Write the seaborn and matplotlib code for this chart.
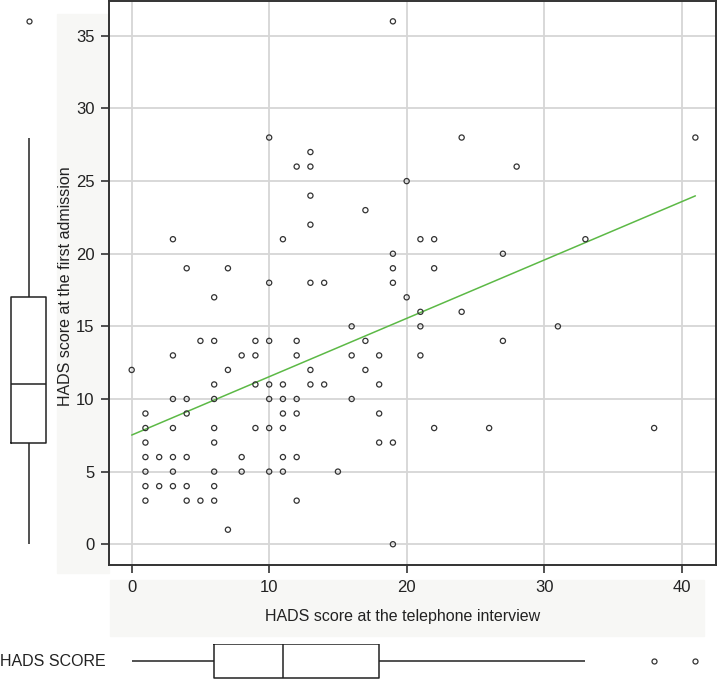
import numpy as np
import pandas as pd
import matplotlib
matplotlib.use('Agg')
import matplotlib.pyplot as plt
import seaborn as sns

# HADS score at the telephone interview (x) and at first admission (y)
tel_score = [0,
             1, 1, 1, 1, 1, 1, 1,
             2, 2,
             3, 3, 3, 3, 3, 3, 3,
             4, 4, 4, 4, 4, 4,
             5, 5,
             6, 6, 6, 6, 6, 6, 6, 6, 6,
             7, 7, 7,
             8, 8, 8,
             9, 9, 9, 9,
             10, 10, 10, 10, 10, 10, 10,
             11, 11, 11, 11, 11, 11, 11,
             12, 12, 12, 12, 12, 12, 12,
             13, 13, 13, 13, 13, 13, 13,
             14, 14,
             15,
             16, 16, 16,
             17, 17, 17,
             18, 18, 18, 18,
             19, 19, 19, 19, 19, 19,
             20, 20,
             21, 21, 21, 21,
             22, 22, 22,
             24, 24,
             26,
             27, 27,
             28,
             31,
             33,
             38,
             41]
adm_score = [12,
             9, 8, 7, 6, 5, 4, 3,
             6, 4,
             21, 13, 10, 8, 6, 5, 4,
             19, 10, 9, 6, 4, 3,
             14, 3,
             17, 14, 11, 10, 8, 7, 5, 4, 3,
             19, 12, 1,
             13, 6, 5,
             14, 13, 11, 8,
             28, 18, 14, 11, 10, 8, 5,
             21, 11, 10, 9, 8, 6, 5,
             26, 14, 13, 10, 9, 6, 3,
             27, 26, 24, 22, 18, 12, 11,
             18, 11,
             5,
             15, 13, 10,
             23, 14, 12,
             13, 11, 9, 7,
             36, 20, 19, 18, 7, 0,
             25, 17,
             21, 16, 15, 13,
             21, 19, 8,
             28, 16,
             8,
             20, 14,
             26,
             15,
             21,
             8,
             28]

x_ticks = [0, 10, 20, 30, 40]
y_ticks = [0, 5, 10, 15, 20, 25, 30, 35]

df = pd.DataFrame({'tel': tel_score, 'adm': adm_score})

sns.set_style('white')
plt.rcParams['font.family'] = ['Liberation Sans', 'DejaVu Sans']

W, H = 719, 680
fig = plt.figure(figsize=(W / 100, H / 100), dpi=100)

def px_rect(x0, y0, x1, y1):
    # pixel box (top-left origin) -> figure fraction rect
    return [x0 / W, 1 - y1 / H, (x1 - x0) / W, (y1 - y0) / H]

# faint panels behind the axis titles
for x0, y0, x1, y1 in [(57, 14, 109, 573), (110, 580, 704, 636)]:
    fig.patches.append(plt.Rectangle((x0 / W, 1 - y1 / H), (x1 - x0) / W, (y1 - y0) / H,
                                     transform=fig.transFigure, color='#f7f7f5',
                                     zorder=-5))

ax = fig.add_axes(px_rect(109, 1, 716, 565))
ax_left = fig.add_axes(px_rect(0, 1, 57, 565), sharey=ax)
ax_bot = fig.add_axes(px_rect(109, 644, 716, 680), sharex=ax)

edge = '#333333'
sns.scatterplot(data=df, x='tel', y='adm', ax=ax, marker='o', s=14,
                facecolor='none', edgecolor=edge, linewidth=0.9, zorder=3)
sns.regplot(data=df, x='tel', y='adm', ax=ax, scatter=False, ci=None,
            line_kws={'color': '#5cb946', 'lw': 1.1, 'zorder': 2})

ax.set_xlim(-1.65, 42.5)
ax.set_ylim(-1.43, 37.4)
ax.set_xticks(x_ticks)
ax.set_yticks(y_ticks)
ax.grid(True, color='#d6d6d6', lw=1.3)
ax.set_axisbelow(True)
for sp in ax.spines.values():
    sp.set_color(edge)
    sp.set_linewidth(1.4)
ax.tick_params(axis='both', direction='out', length=5.5, width=1.2, color=edge,
               labelsize=12, labelcolor='#222222', pad=5,
               bottom=True, left=True)
ax.set_xlabel('')
ax.set_ylabel('')

fig.text(403 / W, 1 - 617 / H, 'HADS score at the telephone interview',
         ha='center', va='center', fontsize=11.5, color='#222222')
fig.text(66 / W, 1 - 286 / H, 'HADS score at the first admission',
         ha='center', va='center', rotation=90, fontsize=11.5, color='#222222')
fig.text(0, 1 - 662 / H, 'HADS SCORE', ha='left', va='center',
         fontsize=11.5, color='#222222')

box_kw = dict(showcaps=False, fill=False, color='#222222', linewidth=1.1,
              flierprops=dict(marker='o', markersize=3.6, markerfacecolor='none',
                              markeredgecolor=edge, markeredgewidth=0.9))

sns.boxplot(y=df['adm'], ax=ax_left, width=0.61, **box_kw)
ax_left.set_xlim(-0.5, 0.5)
ax_left.axis('off')

# box centred on the lower edge region, its bottom edge just inside the figure
sns.boxplot(x=df['tel'], ax=ax_bot, width=1.0, **box_kw)
ax_bot.set_ylim(0.55, -0.5)
ax_bot.axis('off')

fig.savefig('out.png', dpi=100)
